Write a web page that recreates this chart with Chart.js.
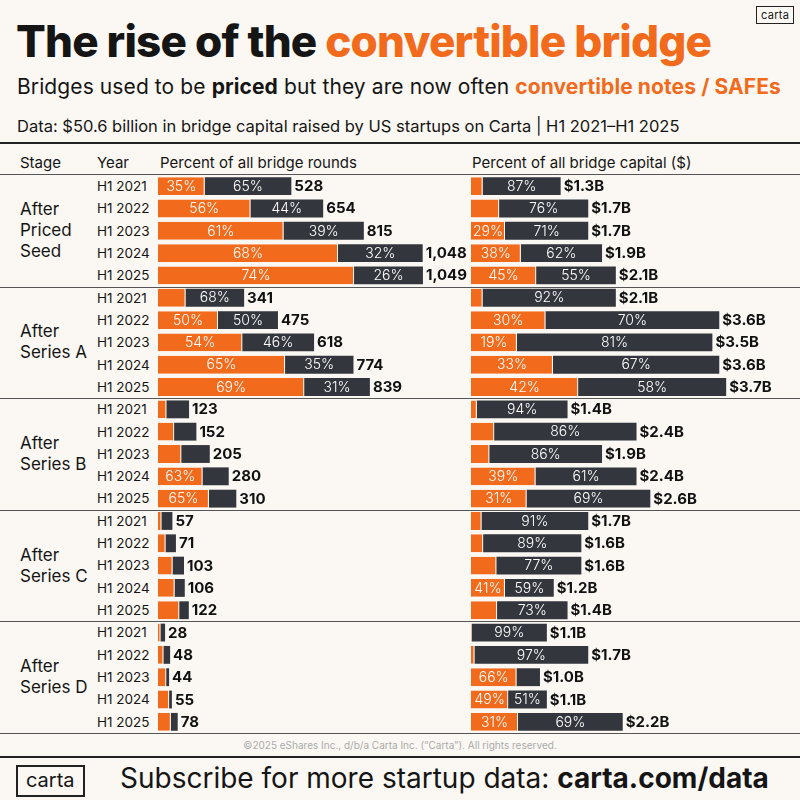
<!DOCTYPE html>
<html><head><meta charset="utf-8">
<script src="https://cdn.jsdelivr.net/npm/chart.js@4"></script>
<style>
body{margin:0;width:800px;height:800px;background:#fbf8f3;font-family:Inter,"Open Sans",sans-serif;color:#151515;position:relative;overflow:hidden}
.a{position:absolute;white-space:nowrap}
.o{color:#f26a1b}
.hl{position:absolute;left:0;width:800px;background:#555}
</style></head><body>
<div class="a" style="left:756px;top:6px;border:1.5px solid #222;font-size:11px;padding:1px 4px;letter-spacing:.3px">carta</div>
<div class="a" style="left:16px;top:14px;font-size:44px;font-weight:800;letter-spacing:-0.8px">The rise of the <span class="o">convertible bridge</span></div>
<div class="a" style="left:17px;top:74px;font-size:21px;font-weight:400;letter-spacing:0.1px">Bridges used to be <b>priced</b> but they are now often <b class="o">convertible notes / SAFEs</b></div>
<div class="a" style="left:17px;top:116px;font-size:16.5px">Data: $50.6 billion in bridge capital raised by US startups on Carta | H1 2021–H1 2025</div>
<div class="hl" style="top:142px;height:2px;background:#222"></div>
<div class="a" style="left:20px;top:153px;font-size:15px">Stage</div>
<div class="a" style="left:97px;top:153px;font-size:15px">Year</div>
<div class="a" style="left:160px;top:153px;font-size:15px">Percent of all bridge rounds</div>
<div class="a" style="left:472px;top:153px;font-size:15px">Percent of all bridge capital ($)</div>
<div class="hl" style="top:174px;height:1px"></div>
<div class="hl" style="top:287px;height:1px"></div>
<div class="hl" style="top:398px;height:1px"></div>
<div class="hl" style="top:510px;height:1px"></div>
<div class="hl" style="top:621px;height:1px"></div>
<div class="hl" style="top:733px;height:1px"></div>
<div id="stages"></div>
<div id="years"></div>
<div style="position:absolute;left:158px;top:175px;width:320px;height:558px"><canvas id="c1"></canvas></div>
<div style="position:absolute;left:471px;top:175px;width:320px;height:558px"><canvas id="c2"></canvas></div>
<div class="a" style="left:0;width:800px;text-align:center;top:739px;font-size:10px;color:#aaa">©2025 eShares Inc., d/b/a Carta Inc. (“Carta”). All rights reserved.</div>
<div class="hl" style="top:756px;height:2px;background:#222"></div>
<div class="a" style="left:16px;top:765px;border:2px solid #222;font-size:20px;padding:0 8px;height:28px;line-height:27px">carta</div>
<div class="a" style="left:120px;top:761px;font-size:28px">Subscribe for more startup data: <b>carta.com/data</b></div>
<script>
const stages=["After\nPriced\nSeed","After\nSeries A","After\nSeries B","After\nSeries C","After\nSeries D"];
const years=["H1 2021","H1 2022","H1 2023","H1 2024","H1 2025"];
const roundCounts=[528,654,815,1048,1049, 341,475,618,774,839, 123,152,205,280,310, 57,71,103,106,122, 28,48,44,55,78];
const roundConvPct=[35,56,61,68,74, 32,50,54,65,69, 27,42,45,63,65, 24,42,56,62,69, 35,45,74,80,65];
const capitalB=[1.3,1.7,1.7,1.9,2.1, 2.1,3.6,3.5,3.6,3.7, 1.4,2.4,1.9,2.4,2.6, 1.7,1.6,1.6,1.2,1.4, 1.1,1.7,1.0,1.1,2.2];
const capitalConvPct=[13,24,29,38,45, 8,30,19,33,42, 6,14,14,39,31, 9,11,23,41,27, 1,3,66,49,31];

const ORANGE="#f26a1b",DARK="#33363d";
const rowH=558/25;
let sh="",yh="";
stages.forEach((s,i)=>{
  const lines=s.split("\n");const cy=175+rowH*(i*5+2.5);
  sh+=`<div class="a" style="left:20px;top:${cy-lines.length*21/2}px;font-size:17px;line-height:21px">${lines.join("<br>")}</div>`;
  years.forEach((y,j)=>{yh+=`<div class="a" style="left:97px;top:${175+rowH*(i*5+j)+3}px;font-size:13.5px;line-height:16px">${y}</div>`;});
});
document.getElementById("stages").innerHTML=sh;document.getElementById("years").innerHTML=yh;

const labels=[];stages.forEach((s,i)=>years.forEach(y=>labels.push(i+" "+y)));
function makeLbl(tot,fmt){return {id:"lbl",afterDatasetsDraw(ch){
  const ctx=ch.ctx;
  ctx.save();ctx.textBaseline="middle";
  ch.data.datasets.forEach((ds,di)=>{const m=ch.getDatasetMeta(di);m.data.forEach((b,k)=>{
    const w=Math.abs(b.x-b.base);const p=Math.round(ds.pct[k]);
    if(w>=30){ctx.fillStyle="#fff";ctx.font="300 14px Inter, sans-serif";ctx.textAlign="center";ctx.fillText(p+"%",(b.x+b.base)/2,b.y+0.5);}
    if(di===1){ctx.fillStyle="#111";ctx.font="700 15px Inter, sans-serif";ctx.textAlign="left";ctx.fillText(fmt(tot[k]),b.x+3,b.y+0.5);}
  });});ctx.restore();}};}
function mk(id,tot,pct,max,fmt){
  new Chart(document.getElementById(id),{type:"bar",
    data:{labels,datasets:[
      {data:tot.map((t,i)=>t*pct[i]/100),pct:pct,backgroundColor:ORANGE,borderColor:"#fbf8f3",borderWidth:{right:1},borderSkipped:false,barPercentage:0.8,categoryPercentage:1},
      {data:tot.map((t,i)=>t*(100-pct[i])/100),pct:pct.map(p=>100-p),backgroundColor:DARK,barPercentage:0.8,categoryPercentage:1}]},
    options:{indexAxis:"y",responsive:true,maintainAspectRatio:false,animation:false,
      layout:{padding:0},
      scales:{x:{stacked:true,display:false,min:0,max:max},y:{stacked:true,display:false}},
      plugins:{legend:{display:false},tooltip:{enabled:false}}},
    plugins:[makeLbl(tot,fmt)]});
}
mk("c1",roundCounts,roundConvPct,1267,v=>v.toLocaleString("en-US"));
mk("c2",capitalB,capitalConvPct,4.64,v=>"$"+v.toFixed(1)+"B");
</script></body></html>
